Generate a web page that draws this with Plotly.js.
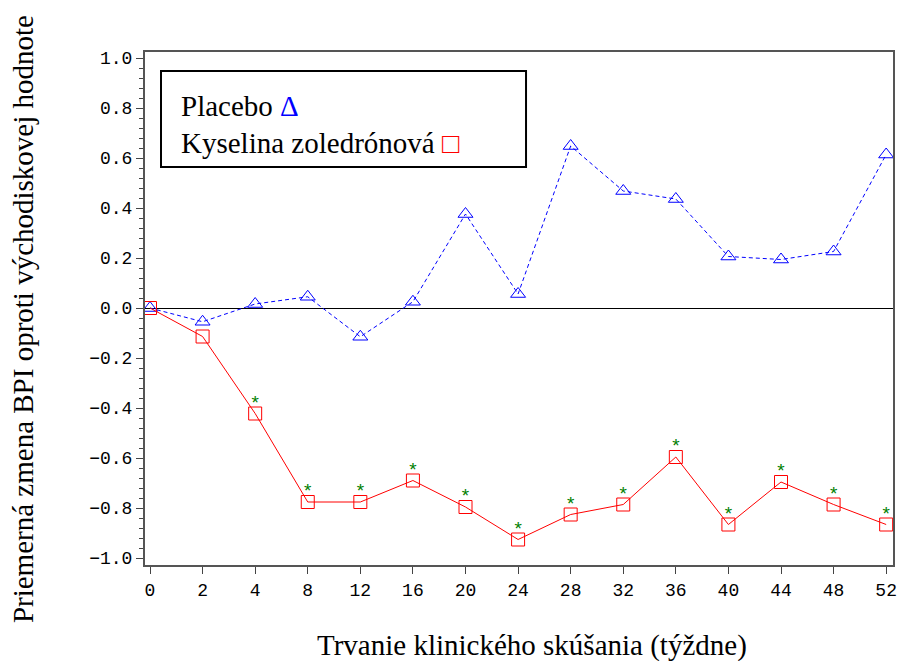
<!DOCTYPE html>
<html>
<head>
<meta charset="utf-8">
<script src="https://cdn.plot.ly/plotly-3.0.1.min.js"></script>
<style>html,body{margin:0;padding:0;background:#fff;}#chart{width:904px;height:661px;}</style>
</head>
<body>
<div id="chart"></div>
<script>
const weeks = ['0','2','4','8','12','16','20','24','28','32','36','40','44','48','52'];
const placebo = [0, -0.055, 0.016, 0.045, -0.115, 0.025, 0.376, 0.056, 0.648, 0.468, 0.436, 0.206, 0.194, 0.226, 0.614];
const zoledronic = [0, -0.114, -0.422, -0.776, -0.776, -0.69, -0.796, -0.926, -0.826, -0.786, -0.596, -0.866, -0.696, -0.786, -0.866];
const significant = [0, 0, 1, 1, 1, 1, 1, 1, 1, 1, 1, 1, 1, 1, 1];
const yTicks = [1.0, 0.8, 0.6, 0.4, 0.2, 0.0, -0.2, -0.4, -0.6, -0.8, -1.0];
const xTitle = 'Trvanie klinického skúšania (týždne)';
const yTitle = 'Priemerná zmena BPI oproti východiskovej hodnote';

const idx = weeks.map((w, i) => i);
const yTickText = yTicks.map(v => (v < 0 ? '\u2212' : '') + Math.abs(v).toFixed(1));

const traces = [
  {
    x: idx, y: placebo, type: 'scatter', mode: 'lines+markers', name: 'Placebo',
    line: {color: '#0000ff', width: 1, dash: '4px,3px'},
    marker: {symbol: 'triangle-up-open', size: 13, color: '#0000ff', line: {width: 1, color: '#0000ff'}}
  },
  {
    x: idx, y: zoledronic, type: 'scatter', mode: 'lines+markers', name: 'Kyselina zoledrónová',
    line: {color: '#ff0000', width: 1},
    marker: {symbol: 'square-open', size: 13, color: '#ff0000', line: {width: 1, color: '#ff0000'}}
  },
  {
    x: idx, y: zoledronic, type: 'scatter', mode: 'text',
    text: significant.map(s => s ? '*' : ''), textposition: 'top center',
    textfont: {family: 'Liberation Mono, monospace', size: 19, color: '#008000'},
    hoverinfo: 'skip'
  }
];

const serif = 'Liberation Serif, serif';
const layout = {
  width: 904, height: 661,
  margin: {l: 145, r: 11, t: 52, b: 96},
  paper_bgcolor: '#fff', plot_bgcolor: '#fff',
  showlegend: false,
  font: {family: serif, color: '#000'},
  xaxis: {
    range: [-0.095, 14.13], tickvals: idx, ticktext: weeks,
    ticks: 'outside', ticklen: 7, tickcolor: '#444', tickwidth: 1,
    showgrid: false, zeroline: false,
    showline: true, mirror: true, linecolor: '#555', linewidth: 2,
    tickfont: {family: 'Liberation Mono, monospace', size: 18, color: '#000'}
  },
  yaxis: {
    range: [-1.028, 1.024], tickvals: yTicks, ticktext: yTickText,
    ticks: 'outside', ticklen: 7, tickcolor: '#444', tickwidth: 1,
    minor: {dtick: 0.04, ticks: 'outside', ticklen: 4, tickcolor: '#444', showgrid: false},
    showgrid: false,
    zeroline: true, zerolinecolor: '#000', zerolinewidth: 1,
    showline: true, mirror: true, linecolor: '#555', linewidth: 2,
    tickfont: {family: 'Liberation Mono, monospace', size: 18, color: '#000'}
  },
  shapes: [
    {type: 'rect', xref: 'paper', yref: 'paper', x0: 0.0214, x1: 0.5094, y0: 0.776, y1: 0.963, line: {color: '#000', width: 2}, fillcolor: 'rgba(0,0,0,0)'}
  ],
  annotations: [
    {xref: 'paper', yref: 'paper', x: 0.046, y: 0.895, xanchor: 'left', yanchor: 'middle', showarrow: false,
     text: 'Placebo <span style="color:#0000ff">Δ</span>', font: {family: serif, size: 29, color: '#000'}},
    {xref: 'paper', yref: 'paper', x: 0.046, y: 0.823, xanchor: 'left', yanchor: 'middle', showarrow: false,
     text: 'Kyselina zoledrónová <span style="color:#ff0000">□</span>', font: {family: serif, size: 29, color: '#000'}},
    {xref: 'paper', yref: 'paper', x: 0.5174, y: -0.156, xanchor: 'center', yanchor: 'middle', showarrow: false,
     text: xTitle, font: {family: serif, size: 29, color: '#000'}},
    {xref: 'paper', yref: 'paper', x: -0.163, y: 0.4795, xanchor: 'center', yanchor: 'middle', showarrow: false, textangle: -90,
     text: yTitle, font: {family: serif, size: 29, color: '#000'}}
  ]
};

Plotly.newPlot('chart', traces, layout, {displayModeBar: false, staticPlot: true});
</script>
</body>
</html>
